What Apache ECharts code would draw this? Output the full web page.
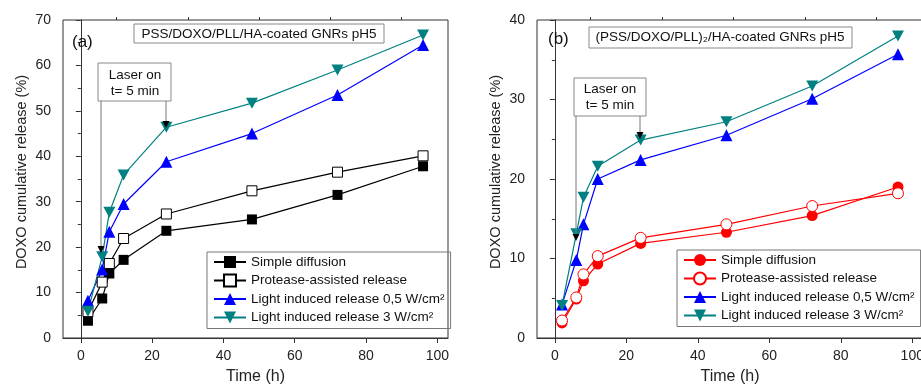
<!DOCTYPE html>
<html><head><meta charset="utf-8">
<script src="https://cdn.jsdelivr.net/npm/echarts@6/dist/echarts.min.js"></script>
<style>html,body{margin:0;padding:0;background:#fff}#c{width:921px;height:385px}</style>
</head><body><div id="c"></div>
<script>
// ---- data ----
var times = [2, 6, 8, 12, 24, 48, 72, 96];
var seriesNames = ['Simple diffusion', 'Protease-assisted release', 'Light induced release 0,5 W/cm²', 'Light induced release 3 W/cm²'];
// panel (a)
var aSimple   = [3.8, 8.7, 14.2, 17.2, 23.6, 26.1, 31.5, 37.8];
var aProtease = [5.8, 12.3, 16.4, 21.9, 27.3, 32.4, 36.5, 40.1];
var aLight05  = [8.2, 15.1, 23.4, 29.5, 38.8, 45.0, 53.5, 64.5];
var aLight3   = [5.9, 17.9, 27.7, 35.9, 46.4, 51.7, 59.0, 66.7];
// panel (b)
var bSimple   = [1.9, 4.9, 7.2, 9.3, 11.9, 13.3, 15.4, 19.0];
var bProtease = [2.2, 5.1, 8.0, 10.3, 12.6, 14.3, 16.6, 18.2];
var bLight05  = [4.2, 9.8, 14.3, 20.0, 22.4, 25.5, 30.1, 35.7];
var bLight3   = [4.1, 13.1, 17.7, 21.6, 24.9, 27.2, 31.7, 38.0];
var xMajor = [0, 20, 40, 60, 80, 100];
var xMinor = [10, 30, 50, 70, 90];

function pairs(v){ return times.map(function(t,i){ return [t, v[i]]; }); }

var FONT = 'Liberation Sans, Arial, sans-serif';
var TRI_DOWN = 'path://M0,0 L12,0 L6,11 Z';

var chart = echarts.init(document.getElementById('c'), null, {renderer:'canvas'});

function mkX(grid, isMain){
  return {
    type:'value', gridIndex:grid, min:-5, max:103,
    axisLine:{show:isMain, onZero:false, lineStyle:{color:'#333', width:1}},
    splitLine:{show:false},
    axisTick:{show:true, length:isMain?5:3, customValues:isMain?xMajor:xMinor, lineStyle:{color:'#333'}},
    axisLabel:{show:isMain, customValues:xMajor, fontSize:14, color:'#222', fontFamily:FONT, margin:11},
    name:isMain?'Time (h)':'', nameLocation:'middle', nameGap:31,
    nameTextStyle:{fontSize:16, color:'#222', fontFamily:FONT}
  };
}
function mkY(grid, max){
  return {
    type:'value', gridIndex:grid, min:0, max:max, interval:10,
    axisLine:{show:true, lineStyle:{color:'#333', width:1}},
    splitLine:{show:false},
    axisTick:{show:true, length:5, lineStyle:{color:'#333'}},
    minorTick:{show:true, splitNumber:2, length:3, lineStyle:{color:'#333'}},
    axisLabel:{fontSize:14, color:'#222', fontFamily:FONT, margin:12},
    name:'DOXO cumulative release (%)', nameLocation:'middle', nameGap:34,
    nameTextStyle:{fontSize:14.5, color:'#222', fontFamily:FONT, padding:[0,0,0,14]}
  };
}

function ser(name, xi, yi, data, color, symbol, size, hollow){
  return {
    type:'line', name:name, xAxisIndex:xi, yAxisIndex:yi, data:pairs(data),
    symbol:symbol, symbolSize:size, showAllSymbol:true,
    lineStyle:{color:color, width:1.2},
    itemStyle:{color:hollow?'#fff':color, borderColor:color, borderWidth:hollow?1:0},
    emphasis:{disabled:true}, animation:false, z:3
  };
}

var aSeries = [
  ser('a:'+seriesNames[0], 0, 0, aSimple, '#000', 'rect', 10, false),
  ser('a:'+seriesNames[1], 0, 0, aProtease, '#000', 'rect', 10, true),
  ser('a:'+seriesNames[2], 0, 0, aLight05, '#0000ff', 'triangle', 12, false),
  ser('a:'+seriesNames[3], 0, 0, aLight3, '#008080', TRI_DOWN, [12,11], false)
];
var bSeries = [
  ser('b:'+seriesNames[0], 2, 1, bSimple, '#ff0000', 'circle', 11, false),
  ser('b:'+seriesNames[1], 2, 1, bProtease, '#ff0000', 'circle', 11, true),
  ser('b:'+seriesNames[2], 2, 1, bLight05, '#0000ff', 'triangle', 12, false),
  ser('b:'+seriesNames[3], 2, 1, bLight3, '#008080', TRI_DOWN, [12,11], false)
];

function mkLegend(prefix, left, top){
  return {
    orient:'vertical', left:left, top:top,
    data: seriesNames.map(function(n){ return prefix+n; }),
    formatter:function(n){ return n.slice(2); },
    borderColor:'#777', borderWidth:1, padding:[3,6,4,6],
    itemGap:4.5, itemWidth:32, itemHeight:15,
    textStyle:{fontSize:13.5, color:'#111', fontFamily:FONT},
    selectedMode:false
  };
}

function box(x,y,w,h){ return {type:'rect', shape:{x:x,y:y,width:w,height:h}, style:{fill:'#fff', stroke:'#888', lineWidth:1}, z:10}; }
function txt(x,y,s,size,align){ return {type:'text', x:x, y:y, style:{text:s, font:size+'px '+FONT, fill:'#111', align:align||'left', verticalAlign:'middle'}, z:11}; }
function vline(x,y1,y2){ return {type:'line', shape:{x1:x,y1:y1,x2:x,y2:y2}, style:{stroke:'#777', lineWidth:1}, z:10}; }
function arrowHead(x,y){ return {type:'polygon', shape:{points:[[x-3.5,y-7],[x+3.5,y-7],[x,y]]}, style:{fill:'#000'}, z:12}; }

var graphics = [
  // panel a
  txt(72, 42, '(a)', 17),
  box(134, 24, 250, 19), txt(259, 34, 'PSS/DOXO/PLL/HA-coated GNRs pH5', 13.5, 'center'),
  vline(101, 101, 249), arrowHead(101, 253),
  vline(166, 101, 122), arrowHead(166, 128),
  box(98, 63, 73, 38), txt(135, 75, 'Laser on', 13.5, 'center'), txt(135, 91, 't= 5 min', 13.5, 'center'),
  // panel b
  txt(548, 39, '(b)', 17),
  box(589, 27, 263, 21), txt(720, 37, '(PSS/DOXO/PLL)₂/HA-coated GNRs pH5', 13.5, 'center'),
  vline(576, 116, 236), arrowHead(576, 241),
  vline(640, 116, 132), arrowHead(640, 139),
  box(574, 78, 72, 38), txt(610, 89, 'Laser on', 13.5, 'center'), txt(610, 105, 't= 5 min', 13.5, 'center')
];

chart.setOption({
  animation:false,
  backgroundColor:'#fff',
  grid:[
    {left:63, top:20, width:385, height:318, show:true, borderColor:'#333', borderWidth:1, backgroundColor:'transparent', outerBoundsMode:'none', containLabel:false},
    {left:537, top:20, width:386, height:318, show:true, borderColor:'#333', borderWidth:1, backgroundColor:'transparent', outerBoundsMode:'none', containLabel:false}
  ],
  xAxis:[mkX(0,true), mkX(0,false), mkX(1,true), mkX(1,false)],
  yAxis:[mkY(0,70), mkY(1,40)],
  legend:[mkLegend('a:', 207, 252), mkLegend('b:', 677, 250)],
  series: aSeries.concat(bSeries),
  graphic: graphics
});
</script></body></html>
